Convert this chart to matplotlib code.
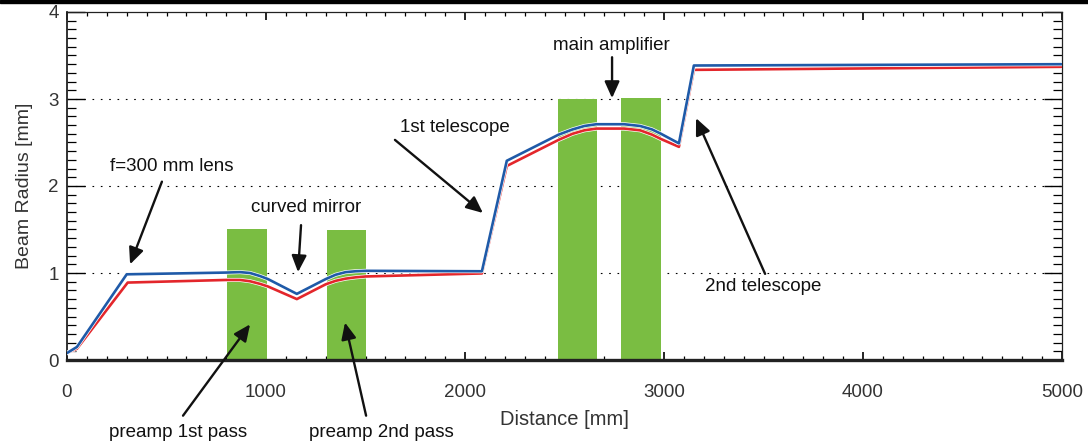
import numpy as np
import matplotlib
matplotlib.use("Agg")
import matplotlib.pyplot as plt
import matplotlib.patheffects as pe
from matplotlib.ticker import MultipleLocator

plt.rcParams['font.family'] = ['Liberation Sans', 'DejaVu Sans']

# beam radius along the amplifier chain
blue_x = [0, 50, 300, 800, 870, 920, 970, 1010, 1155, 1300, 1350, 1400, 1450, 1500,
          2085, 2210, 2470, 2540, 2600, 2660, 2800, 2880, 2940, 2985, 3075, 3150, 5000]
blue_y = [0.08, 0.15, 0.985, 1.005, 1.01, 1.0, 0.965, 0.93, 0.76, 0.93, 0.98, 1.01,
          1.02, 1.025, 1.02, 2.29, 2.59, 2.65, 2.69, 2.71, 2.71, 2.69, 2.65, 2.60,
          2.49, 3.385, 3.40]
red_x = [0, 50, 305, 800, 870, 920, 970, 1010, 1155, 1300, 1350, 1400, 1450, 1500,
         2085, 2210, 2470, 2540, 2600, 2660, 2800, 2880, 2940, 2985, 3075, 3150, 5000]
red_y = [0.08, 0.13, 0.89, 0.92, 0.92, 0.905, 0.875, 0.845, 0.70, 0.87, 0.91, 0.935,
         0.95, 0.96, 0.995, 2.23, 2.53, 2.60, 2.64, 2.66, 2.66, 2.64, 2.59, 2.54,
         2.45, 3.335, 3.37]

# gain media (green blocks)
bar_left = [805, 1305, 2465, 2785]
bar_width = [200, 200, 200, 200]
bar_height = [1.51, 1.49, 3.0, 3.01]

# annotations: text, text position, arrow tail, arrow tip (data units)
notes = [
    ("f=300 mm lens", (525, 2.22), (477, 2.05), (317, 1.10)),
    ("curved mirror", (1200, 1.75), (1176, 1.55), (1161, 1.01)),
    ("1st telescope", (1950, 2.67), (1648, 2.53), (2090, 1.69)),
    ("main amplifier", (2734, 3.62), (2739, 3.48), (2739, 3.01)),
    ("2nd telescope", (3497, 0.84), (3508, 0.99), (3161, 2.78)),
    ("preamp 1st pass", (558, -0.83), (583, -0.64), (920, 0.41)),
    ("preamp 2nd pass", (1578, -0.83), (1503, -0.64), (1397, 0.43)),
]

fig = plt.figure(figsize=(10.88, 4.44), dpi=100)
ax = fig.add_axes([67/1088, 84/444, 995/1088, 348/444])

ax.bar(bar_left, bar_height, width=bar_width, align='edge', color='#7abd42', zorder=2)

halo = [pe.Stroke(linewidth=2.9, foreground='white'), pe.Normal()]
ax.plot(red_x, red_y, color='#e3262b', lw=1.9, zorder=3, path_effects=halo)
ax.plot(blue_x, blue_y, color='#1f5aa8', lw=1.9, zorder=4, path_effects=halo)

for yv in [1, 2, 3]:
    ax.axhline(yv, color='black', lw=0.8, ls=(0, (1.5, 6)), zorder=1)

ax.set_xlim(0, 5000)
ax.set_ylim(0, 4)
ax.xaxis.set_major_locator(MultipleLocator(1000))
ax.xaxis.set_minor_locator(MultipleLocator(100))
ax.yaxis.set_major_locator(MultipleLocator(1))
ax.yaxis.set_minor_locator(MultipleLocator(0.1))

ax.tick_params(axis='x', which='major', direction='in', length=6, width=1.2,
               top=True, pad=17, labelsize=13.5, labelcolor='#333333')
ax.tick_params(axis='x', which='minor', direction='in', length=3, width=0.9, top=True)
ax.tick_params(axis='y', which='major', direction='in', length=13, width=1.0,
               right=True, pad=6, labelsize=13.5, labelcolor='#333333')
ax.tick_params(axis='y', which='minor', direction='in', length=6.5, width=0.9, right=True)

for side, w in [('bottom', 2.4), ('left', 1.3), ('top', 0.9), ('right', 0.9)]:
    ax.spines[side].set_linewidth(w)
    ax.spines[side].set_color('#222222')

fig.canvas.draw()
ylabels = ax.get_yticklabels()
ylabels[0].set_va('bottom')
ylabels[-1].set_va('top')

ax.set_xlabel("Distance [mm]", fontsize=14.5, color='#333333', labelpad=7)
ax.set_ylabel("Beam Radius [mm]", fontsize=14, color='#333333', labelpad=11)

for label, txt_pos, tail, tip in notes:
    ax.text(txt_pos[0], txt_pos[1], label, ha='center', va='center', fontsize=13.5,
            color='#111111', zorder=6, clip_on=False)
    ax.annotate('', xy=tip, xytext=tail, annotation_clip=False, zorder=6,
                arrowprops=dict(arrowstyle='-|>,head_length=1.0,head_width=0.45',
                                color='#111111', lw=1.7, shrinkA=0, shrinkB=0))

# black band across the top edge
fig.patches.append(plt.Rectangle((0, 1 - 3/444), 1, 3/444, transform=fig.transFigure,
                                 color='black', zorder=10))

fig.savefig("out.png", dpi=100)
